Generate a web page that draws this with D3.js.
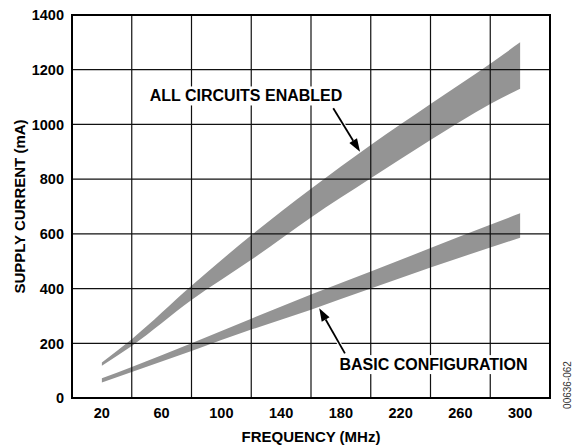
<!DOCTYPE html>
<html><head><meta charset="utf-8">
<script src="https://cdn.jsdelivr.net/npm/d3@7"></script>
<style>body{margin:0;background:#fff}svg{display:block}text{font-family:"Liberation Sans",Arial,Helvetica,sans-serif;font-weight:bold}</style>
</head><body>
<svg id="c" width="576" height="447"></svg>
<script>
// Data
const freq = [20, 40, 80, 120, 160, 200, 240, 280, 300];
const allTop = [130, 215, 410, 595, 765, 925, 1075, 1222, 1300];
const allBottom = [118, 190, 358, 505, 660, 803, 943, 1075, 1130];
const basicTop = [72, 113, 200, 290, 378, 462, 548, 633, 675];
const basicBottom = [57, 95, 172, 250, 323, 400, 477, 550, 586];
const xTickLabels = [20, 60, 100, 140, 180, 220, 260, 300];
const xGrid = [0, 40, 80, 120, 160, 200, 240, 280, 320];
const yTicks = [0, 200, 400, 600, 800, 1000, 1200, 1400];

const svg = d3.select("#c");
const x = d3.scaleLinear().domain([0, 320]).range([72, 550]);
const y = d3.scaleLinear().domain([0, 1400]).range([398, 15]);

const area = (top, bot) => d3.area()
  .x((d, i) => x(freq[i]))
  .y0((d, i) => y(bot[i]))
  .y1((d, i) => y(top[i]))
  .curve(d3.curveMonotoneX)(freq);

svg.append("path").attr("d", area(allTop, allBottom)).attr("fill", "#949494");
svg.append("path").attr("d", area(basicTop, basicBottom)).attr("fill", "#949494");

// grid
const g = svg.append("g");
g.selectAll(".vx").data(xGrid.slice(1, -1)).join("line")
  .attr("x1", d => x(d)).attr("x2", d => x(d)).attr("y1", y(0)).attr("y2", y(1400))
  .attr("stroke", "#111").attr("stroke-width", 1.2);
g.selectAll(".hy").data(yTicks.slice(1, -1)).join("line")
  .attr("y1", d => y(d)).attr("y2", d => y(d)).attr("x1", x(0)).attr("x2", x(320))
  .attr("stroke", "#111").attr("stroke-width", 1.2);
svg.append("rect").attr("x", x(0)).attr("y", y(1400))
  .attr("width", x(320) - x(0)).attr("height", y(0) - y(1400))
  .attr("fill", "none").attr("stroke", "#000").attr("stroke-width", 2);

// axes labels
svg.append("g").selectAll("text").data(xTickLabels).join("text")
  .attr("x", d => x(d)).attr("y", 418).attr("text-anchor", "middle")
  .attr("font-size", 14.5).text(d => d);
svg.append("g").selectAll("text").data(yTicks).join("text")
  .attr("x", 64).attr("y", d => y(d)).attr("dy", "0.36em").attr("text-anchor", "end")
  .attr("font-size", 14.5).text(d => d);

svg.append("text").attr("x", (x(0) + x(320)) / 2).attr("y", 442)
  .attr("text-anchor", "middle").attr("font-size", 15).text("FREQUENCY (MHz)");
svg.append("text").attr("transform", `translate(25,${(y(0) + y(1400)) / 2}) rotate(-90)`)
  .attr("text-anchor", "middle").attr("font-size", 15).text("SUPPLY CURRENT (mA)");

// annotations
function label(txt, fx, fy) {
  const t = svg.append("text").attr("x", x(fx)).attr("y", y(fy))
    .attr("text-anchor", "middle").attr("font-size", 16).text(txt);
  const b = t.node().getBBox();
  svg.insert("rect", () => t.node()).attr("x", b.x - 4).attr("y", b.y - 1)
    .attr("width", b.width + 8).attr("height", b.height + 2).attr("fill", "#fff");
}
function arrow(f1, v1, f2, v2) {
  const x1 = x(f1), y1 = y(v1), x2 = x(f2), y2 = y(v2);
  const a = Math.atan2(y2 - y1, x2 - x1), L = 13, W = 4.5;
  const bx = x2 - L * Math.cos(a), by = y2 - L * Math.sin(a);
  svg.append("line").attr("x1", x1).attr("y1", y1).attr("x2", bx).attr("y2", by)
    .attr("stroke", "#fff").attr("stroke-width", 4);
  svg.append("line").attr("x1", x1).attr("y1", y1).attr("x2", bx).attr("y2", by)
    .attr("stroke", "#000").attr("stroke-width", 1.8);
  const px = -Math.sin(a), py = Math.cos(a);
  svg.append("path").attr("d", `M${x2},${y2}L${bx + W * px},${by + W * py}L${bx - W * px},${by - W * py}Z`)
    .attr("fill", "#000");
}
label("ALL CIRCUITS ENABLED", 116.5, 1084);
arrow(174.9, 1059, 192.8, 900);
label("BASIC CONFIGURATION", 242, 102);
arrow(182.7, 163, 165.5, 328);

svg.append("text").attr("transform", "translate(571,385) rotate(-90)")
  .attr("text-anchor", "middle").attr("font-size", 10).attr("font-weight", "normal")
  .style("font-weight", "normal").attr("fill", "#333").text("00636-062");
</script>
</body></html>
